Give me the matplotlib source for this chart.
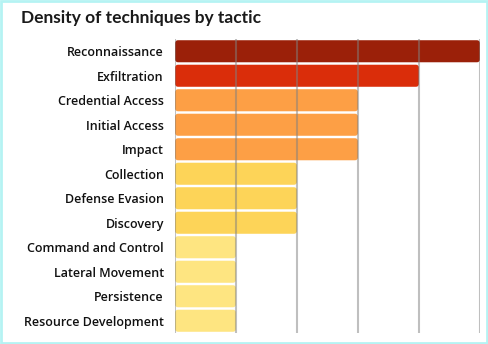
import matplotlib
matplotlib.use("Agg")
import matplotlib.pyplot as plt
from matplotlib.patches import FancyBboxPatch, Rectangle

# --- data ---
tactics = ["Reconnaissance", "Exfiltration", "Credential Access", "Initial Access",
           "Impact", "Collection", "Defense Evasion", "Discovery",
           "Command and Control", "Lateral Movement", "Persistence",
           "Resource Development"]
counts = [5, 4, 3, 3, 3, 2, 2, 2, 1, 1, 1, 1]

# colour per density level
level_colors = {5: "#9b2009", 4: "#da2d0a", 3: "#fd9f45", 2: "#fdd458", 1: "#fee581"}

plt.rcParams["font.family"] = ["Open Sans", "DejaVu Sans"]

fig = plt.figure(figsize=(4.88, 3.44), dpi=100)
ax = fig.add_axes([175 / 488, 11 / 344, 305 / 488, 294 / 344])

n = len(tactics)
bar_h = 0.9
ax.set_xlim(0, 5)
ax.set_ylim(n - 0.5, -0.5)

# rounded bars: corner radius of ~3 px in both directions
ax_w_px = 305
ax_h_px = 294
x_per_px = 5 / ax_w_px
y_per_px = n / ax_h_px
r = 3 * x_per_px
for i, (name, v) in enumerate(zip(tactics, counts)):
    box = FancyBboxPatch((0, i - bar_h / 2), v, bar_h,
                         boxstyle=f"round,pad=0,rounding_size={r}",
                         mutation_aspect=y_per_px / x_per_px,
                         facecolor=level_colors[v], edgecolor="none", zorder=1)
    ax.add_patch(box)

# vertical grid lines over the bars
for x in range(0, 6):
    ax.axvline(x, ymin=0, ymax=1, color="#808080", alpha=0.5, lw=1.5, zorder=3)

ax.set_yticks(range(n))
ax.set_yticklabels(tactics, fontsize=9, fontweight="semibold", color="#111111")
ax.tick_params(axis="y", length=0, pad=8)
ax.set_xticks([])
for s in ax.spines.values():
    s.set_visible(False)

fig.text(21 / 488, 1 - 18 / 344, "Density of techniques by tactic",
         fontsize=12.5, fontweight="bold", family=["Lato", "DejaVu Sans"],
         color="#1a1a1a", va="center", ha="left")

# thin frame around the whole figure
fig.patches.append(Rectangle((0.002, 0.003), 0.996, 0.994, transform=fig.transFigure,
                             fill=False, edgecolor="#b5f3f3", lw=2))

fig.savefig("out.png", dpi=100)
